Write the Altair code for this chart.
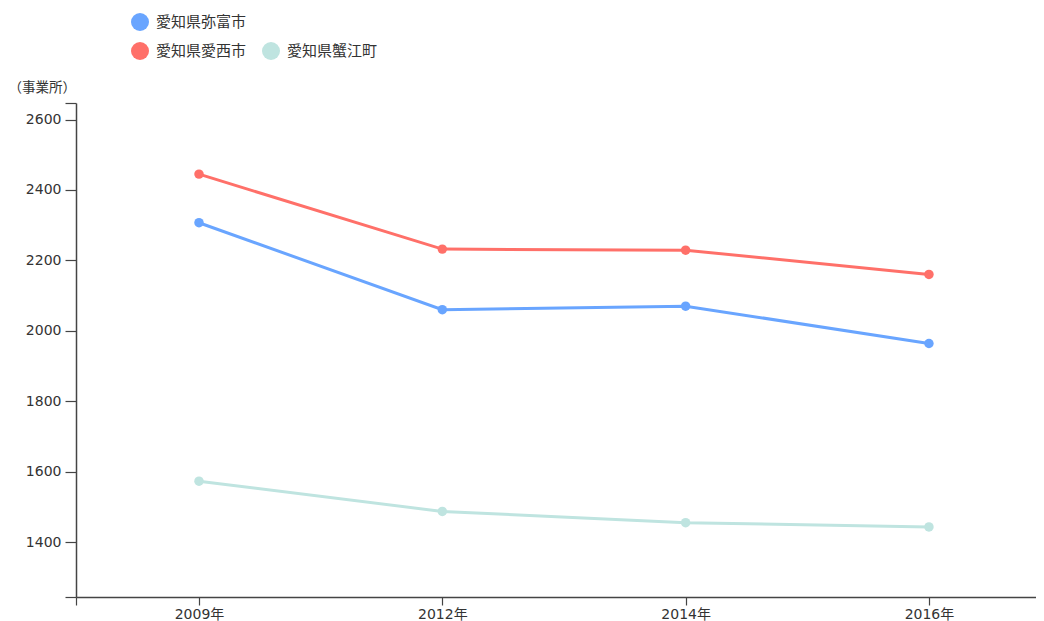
import altair as alt
import pandas as pd

years = ["2009年", "2012年", "2014年", "2016年"]
series_a = ["愛知県弥富市"]
series_b = ["愛知県愛西市", "愛知県蟹江町"]
values = {
    "愛知県弥富市": [2307, 2060, 2070, 1964],
    "愛知県愛西市": [2445, 2232, 2229, 2160],
    "愛知県蟹江町": [1573, 1487, 1455, 1443],
}
colors_a = ["#69a5ff"]
colors_b = ["#ff7069", "#bfe4e0"]

rows = []
for name, vals in values.items():
    for i, (yr, v) in enumerate(zip(years, vals)):
        rows.append({"area": name, "idx": i, "year": yr, "value": v})
df = pd.DataFrame(rows)

W = 960
H = 494
x_min = -0.5055
x_max = 3.440
y_min = 1244
y_max = 2647

label_expr = " : ".join(
    [f"datum.value == {i} ? '{y}'" for i, y in enumerate(years)]
) + " : ''"

x_enc = alt.X(
    "idx:Q",
    scale=alt.Scale(domain=[x_min, x_max], nice=False, zero=False),
    axis=alt.Axis(
        title=None,
        values=[x_min, 0, 1, 2, 3],
        labelExpr=label_expr,
        grid=False,
        tickSize=8,
        labelPadding=2,
        labelFlush=False,
        labelOverlap=False,
        labelFontSize=14,
        labelFont="DejaVu Sans, Noto Sans CJK JP",
        labelColor="#333333",
        domainColor="#444444",
        tickColor="#444444",
        domainWidth=1.5,
        tickWidth=1.2,
    ),
)
y_enc = alt.Y(
    "value:Q",
    scale=alt.Scale(domain=[y_min, y_max], nice=False, zero=False),
    axis=alt.Axis(
        title="（事業所）",
        titleAngle=0,
        titleAlign="left",
        titleBaseline="middle",
        titleX=-68,
        titleY=-16,
        titleFontWeight="normal",
        titleFontSize=13.5,
        titleFont="Noto Sans CJK JP",
        titleColor="#333333",
        values=[y_min, 1400, 1600, 1800, 2000, 2200, 2400, 2600, y_max],
        labelExpr="datum.value % 200 == 0 ? datum.label : ''",
        format="d",
        grid=False,
        tickSize=11,
        labelPadding=4,
        labelFontSize=14,
        labelFont="DejaVu Sans",
        labelColor="#333333",
        labelOverlap=False,
        domainColor="#444444",
        tickColor="#444444",
        domainWidth=1.5,
        tickWidth=1.2,
    ),
)


def legend(x, y, direction):
    return alt.Legend(
        title=None,
        orient="none",
        legendX=x,
        legendY=y,
        direction=direction,
        symbolType="circle",
        symbolSize=324,
        symbolStrokeWidth=0,
        symbolOpacity=1,
        labelFontSize=15,
        labelFont="Noto Sans CJK JP",
        labelColor="#333333",
        labelOffset=7,
        columnPadding=15,
    )


def group(names, cols, lx, ly, direction):
    base = alt.Chart(df).transform_filter(
        alt.FieldOneOfPredicate(field="area", oneOf=names)
    )
    color = alt.Color(
        "area:N",
        scale=alt.Scale(domain=names, range=cols),
        legend=legend(lx, ly, direction),
    )
    line = base.mark_line(strokeWidth=3).encode(x=x_enc, y=y_enc, color=color)
    pts = base.mark_circle(size=90, opacity=1).encode(x=x_enc, y=y_enc, color=color)
    return alt.layer(line, pts)


chart_a = group(series_a, colors_a, 55, -90, "vertical")
chart_b = group(series_b, colors_b, 55, -61, "horizontal")

chart = (
    alt.layer(chart_a, chart_b)
    .resolve_scale(color="independent")
    .properties(
        width=W,
        height=H,
        padding={"left": 0, "top": 5, "right": 0, "bottom": 0},
        background="white",
    )
    .configure_view(stroke=None)
)

chart.save("out.html", embed_options={"renderer": "svg", "actions": False})
